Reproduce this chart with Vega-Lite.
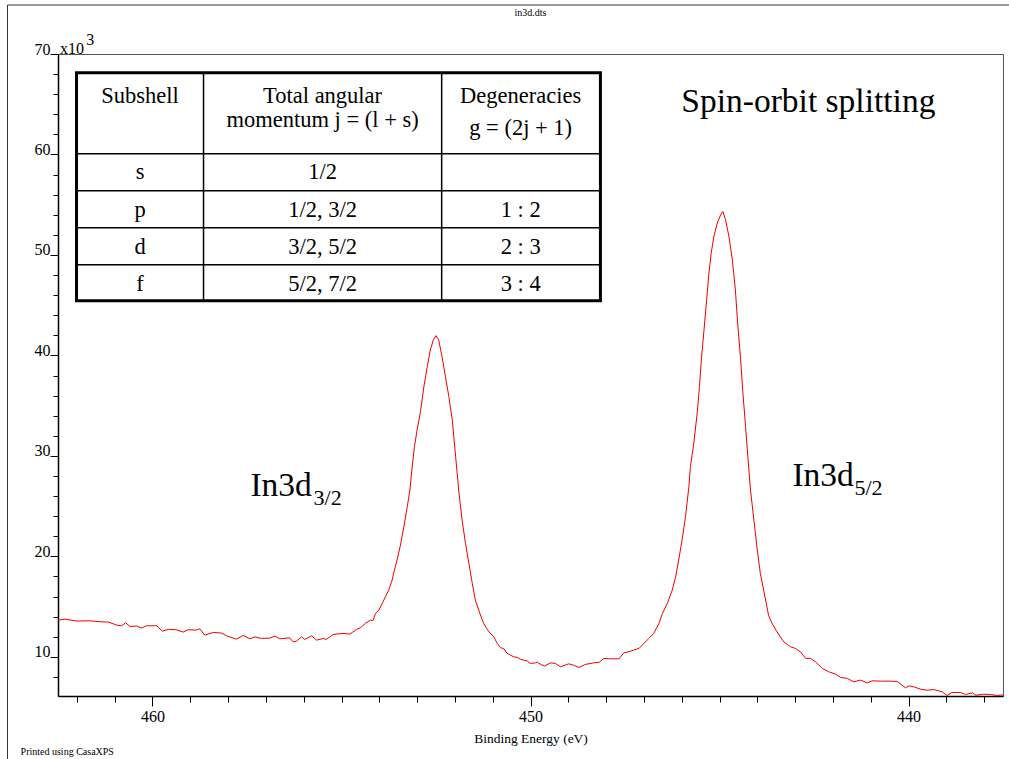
{
  "$schema": "https://vega.github.io/schema/vega-lite/v6.json",
  "width": 945,
  "height": 642,
  "autosize": {"type": "none"},
  "padding": {"left": 58, "top": 54, "right": 6, "bottom": 63},
  "background": "white",
  "config": {
    "view": {"stroke": "#555555", "strokeWidth": 1},
    "font": "Liberation Serif",
    "axis": {"grid": false, "labelFont": "Liberation Serif", "titleFont": "Liberation Serif", "labelColor": "black", "tickColor": "black", "domainColor": "black", "titleColor": "black", "titleFontWeight": "normal"}
  },
  "datasets": {
    "spectrum": [
      {"be": 462.5, "counts": 13650}, {"be": 462.32, "counts": 13750}, {"be": 462.01, "counts": 13560}, {"be": 461.66, "counts": 13590},
      {"be": 461.39, "counts": 13490}, {"be": 461.17, "counts": 13460}, {"be": 460.95, "counts": 13160}, {"be": 460.82, "counts": 13090},
      {"be": 460.71, "counts": 13390}, {"be": 460.6, "counts": 13030}, {"be": 460.42, "counts": 13060}, {"be": 460.29, "counts": 12860},
      {"be": 460.16, "counts": 13090}, {"be": 459.89, "counts": 13090}, {"be": 459.74, "counts": 12560}, {"be": 459.58, "counts": 12730},
      {"be": 459.37, "counts": 12690}, {"be": 459.19, "counts": 12460}, {"be": 459.06, "counts": 12690}, {"be": 458.84, "counts": 12660},
      {"be": 458.75, "counts": 12790}, {"be": 458.62, "counts": 12160}, {"be": 458.39, "counts": 12430}, {"be": 458.17, "counts": 12360},
      {"be": 458.04, "counts": 12090}, {"be": 457.78, "counts": 11760}, {"be": 457.6, "counts": 12130}, {"be": 457.42, "counts": 11790},
      {"be": 457.29, "counts": 11990}, {"be": 457.12, "counts": 11830}, {"be": 456.9, "counts": 11860}, {"be": 456.76, "counts": 12060},
      {"be": 456.63, "counts": 11790}, {"be": 456.37, "counts": 11890}, {"be": 456.28, "counts": 11490}, {"be": 456.19, "counts": 11560},
      {"be": 456.06, "counts": 11990}, {"be": 455.97, "counts": 11730}, {"be": 455.79, "counts": 12090}, {"be": 455.66, "counts": 11660},
      {"be": 455.48, "counts": 11830}, {"be": 455.4, "counts": 11730}, {"be": 455.22, "counts": 12230}, {"be": 454.96, "counts": 12330},
      {"be": 454.78, "counts": 12260}, {"be": 454.6, "counts": 12730}, {"be": 454.5, "counts": 12890}, {"be": 454.37, "counts": 13330},
      {"be": 454.23, "counts": 13660}, {"be": 454.17, "counts": 13590}, {"be": 454.1, "counts": 14320}, {"be": 454.01, "counts": 14650},
      {"be": 453.88, "counts": 15650}, {"be": 453.75, "counts": 16640}, {"be": 453.66, "counts": 17640}, {"be": 453.61, "counts": 18470},
      {"be": 453.53, "counts": 19630}, {"be": 453.44, "counts": 21130}, {"be": 453.35, "counts": 22950}, {"be": 453.26, "counts": 24940},
      {"be": 453.19, "counts": 26600}, {"be": 453.13, "counts": 28920}, {"be": 453.07, "counts": 30920}, {"be": 453.0, "counts": 32580},
      {"be": 452.91, "counts": 34410}, {"be": 452.82, "counts": 36900}, {"be": 452.73, "counts": 38890}, {"be": 452.65, "counts": 40550},
      {"be": 452.57, "counts": 41550}, {"be": 452.5, "counts": 41970}, {"be": 452.43, "counts": 41550}, {"be": 452.34, "counts": 39880},
      {"be": 452.25, "counts": 37890}, {"be": 452.16, "counts": 35900}, {"be": 452.07, "counts": 33580}, {"be": 451.98, "counts": 29920},
      {"be": 451.9, "counts": 26600}, {"be": 451.81, "counts": 23610}, {"be": 451.72, "counts": 21290}, {"be": 451.63, "counts": 19300},
      {"be": 451.54, "counts": 17310}, {"be": 451.46, "counts": 15650}, {"be": 451.34, "counts": 14320}, {"be": 451.24, "counts": 13330},
      {"be": 451.16, "counts": 12830}, {"be": 451.1, "counts": 12490}, {"be": 450.97, "counts": 11990}, {"be": 450.88, "counts": 11330},
      {"be": 450.79, "counts": 10900}, {"be": 450.71, "counts": 10830}, {"be": 450.62, "counts": 10340}, {"be": 450.53, "counts": 10170},
      {"be": 450.44, "counts": 9990}, {"be": 450.35, "counts": 9940}, {"be": 450.26, "counts": 9740}, {"be": 450.18, "counts": 9670},
      {"be": 450.09, "counts": 9600}, {"be": 450.0, "counts": 9340}, {"be": 449.87, "counts": 9400}, {"be": 449.82, "counts": 9470},
      {"be": 449.74, "counts": 9270}, {"be": 449.63, "counts": 9070}, {"be": 449.47, "counts": 9400}, {"be": 449.34, "counts": 9340},
      {"be": 449.21, "counts": 9000}, {"be": 448.99, "counts": 9300}, {"be": 448.86, "counts": 9170}, {"be": 448.72, "counts": 8940},
      {"be": 448.55, "counts": 9240}, {"be": 448.33, "counts": 9400}, {"be": 448.19, "counts": 9440}, {"be": 448.06, "counts": 9840},
      {"be": 447.88, "counts": 9800}, {"be": 447.66, "counts": 9800}, {"be": 447.53, "counts": 10400}, {"be": 447.4, "counts": 10500},
      {"be": 447.27, "counts": 10670}, {"be": 447.13, "counts": 10840}, {"be": 447.0, "counts": 11330}, {"be": 446.87, "counts": 11830},
      {"be": 446.74, "counts": 12330}, {"be": 446.6, "counts": 13330}, {"be": 446.51, "counts": 14320}, {"be": 446.38, "counts": 15320},
      {"be": 446.25, "counts": 16640}, {"be": 446.16, "counts": 17970}, {"be": 446.08, "counts": 19630}, {"be": 445.99, "counts": 21620},
      {"be": 445.9, "counts": 23940}, {"be": 445.81, "counts": 26930}, {"be": 445.77, "counts": 28920}, {"be": 445.68, "counts": 31250},
      {"be": 445.59, "counts": 34240}, {"be": 445.53, "counts": 36900}, {"be": 445.48, "counts": 39550}, {"be": 445.41, "counts": 42540},
      {"be": 445.34, "counts": 45530}, {"be": 445.28, "counts": 48180}, {"be": 445.22, "counts": 50170}, {"be": 445.15, "counts": 51830},
      {"be": 445.06, "counts": 53160}, {"be": 444.97, "counts": 53990}, {"be": 444.91, "counts": 54320}, {"be": 444.84, "counts": 53490},
      {"be": 444.75, "counts": 51830}, {"be": 444.66, "counts": 49510}, {"be": 444.58, "counts": 46520}, {"be": 444.52, "counts": 43200},
      {"be": 444.44, "counts": 39550}, {"be": 444.38, "counts": 36230}, {"be": 444.31, "counts": 32910}, {"be": 444.25, "counts": 29920},
      {"be": 444.18, "counts": 26600}, {"be": 444.09, "counts": 23610}, {"be": 444.0, "counts": 20630}, {"be": 443.92, "counts": 18300},
      {"be": 443.78, "counts": 15650}, {"be": 443.7, "counts": 14100}, {"be": 443.61, "counts": 13330}, {"be": 443.48, "counts": 12490},
      {"be": 443.3, "counts": 11490}, {"be": 443.12, "counts": 11000}, {"be": 442.99, "counts": 10830}, {"be": 442.86, "counts": 10500},
      {"be": 442.72, "counts": 9840}, {"be": 442.59, "counts": 9840}, {"be": 442.46, "counts": 9500}, {"be": 442.28, "counts": 8840},
      {"be": 442.11, "counts": 8510}, {"be": 441.93, "counts": 8280}, {"be": 441.8, "counts": 7950}, {"be": 441.62, "counts": 7850},
      {"be": 441.45, "counts": 7510}, {"be": 441.27, "counts": 7680}, {"be": 441.09, "counts": 7410}, {"be": 440.96, "counts": 7610},
      {"be": 440.74, "counts": 7580}, {"be": 440.48, "counts": 7580}, {"be": 440.3, "counts": 7550}, {"be": 440.17, "counts": 7180},
      {"be": 440.08, "counts": 6910}, {"be": 439.99, "counts": 7110}, {"be": 439.86, "counts": 7010}, {"be": 439.68, "counts": 6780},
      {"be": 439.51, "counts": 6680}, {"be": 439.33, "counts": 6740}, {"be": 439.11, "counts": 6510}, {"be": 438.98, "counts": 6150},
      {"be": 438.85, "counts": 6450}, {"be": 438.62, "counts": 6450}, {"be": 438.49, "counts": 6250}, {"be": 438.31, "counts": 6410},
      {"be": 438.22, "counts": 6180}, {"be": 438.01, "counts": 6280}, {"be": 437.83, "counts": 6250}, {"be": 437.65, "counts": 6150},
      {"be": 437.5, "counts": 6210}
    ],
    "tableLines": [
      {"x": 462.01, "x2": 448.15, "y": 60069, "y2": 60069},
      {"x": 462.01, "x2": 448.15, "y": 56384, "y2": 56384},
      {"x": 462.01, "x2": 448.15, "y": 52699, "y2": 52699},
      {"x": 462.01, "x2": 448.15, "y": 49013, "y2": 49013},
      {"x": 458.65, "x2": 458.65, "y": 68137, "y2": 45428},
      {"x": 452.35, "x2": 452.35, "y": 68137, "y2": 45428}
    ],
    "tableBox": [
      {"x": 462.01, "x2": 448.15, "y": 68137, "y2": 45428}
    ],
    "tableText": [
      {"label": "Subshell", "x": 460.33, "y": 65820},
      {"label": "Total angular", "x": 455.5, "y": 65820},
      {"label": "momentum j = (l + s)", "x": 455.5, "y": 63431},
      {"label": "Degeneracies", "x": 450.26, "y": 65820},
      {"label": "g = (2j + 1)", "x": 450.26, "y": 62635},
      {"label": "s", "x": 460.33, "y": 58255},
      {"label": "1/2", "x": 455.5, "y": 58255},
      {"label": "p", "x": 460.33, "y": 54473},
      {"label": "1/2, 3/2", "x": 455.5, "y": 54473},
      {"label": "1 : 2", "x": 450.26, "y": 54473},
      {"label": "d", "x": 460.33, "y": 50791},
      {"label": "3/2, 5/2", "x": 455.5, "y": 50791},
      {"label": "2 : 3", "x": 450.26, "y": 50791},
      {"label": "f", "x": 460.33, "y": 47108},
      {"label": "5/2, 7/2", "x": 455.5, "y": 47108},
      {"label": "3 : 4", "x": 450.26, "y": 47108}
    ],
    "bigText": [
      {"label": "Spin-orbit splitting", "x": 446.01, "y": 64227},
      {"label": "In3d", "x": 457.41, "y": 26006},
      {"label": "In3d", "x": 443.07, "y": 27003}
    ],
    "subText": [
      {"label": "3/2", "x": 455.74, "y": 25112},
      {"label": "5/2", "x": 441.43, "y": 26107}
    ],
    "fileName": [
      {"label": "in3d.dts", "x": 450.0, "y": 74081}
    ],
    "printNote": [
      {"label": "Printed using CasaXPS", "x": 463.49, "y": 528}
    ],
    "exponent": [
      {"label": "x10", "x": 462.45, "y": 70000}
    ],
    "exponentPower": [
      {"label": "3", "x": 461.75, "y": 70896}
    ],
    "frame": [
      {"x": 463.836, "x2": 463.836, "y": 74877, "y2": -170},
      {"x": 463.836, "x2": 437.33, "y": 74877, "y2": 74877}
    ]
  },
  "resolve": {"axis": {"x": "independent", "y": "independent"}},
  "layer": [
    {
      "data": {"name": "spectrum"},
      "mark": {"type": "line", "color": "#ee0000", "strokeWidth": 1, "clip": true},
      "encoding": {
        "x": {"field": "be", "type": "quantitative", "scale": {"domain": [437.5, 462.5], "reverse": true, "nice": false, "zero": false},
          "axis": {"orient": "bottom", "values": [440, 450, 460], "tickSize": 10, "labelFontSize": 16, "labelPadding": 2, "domainWidth": 1.5, "title": "Binding Energy (eV)", "titleFontSize": 13.5, "titlePadding": 7, "labelFlush": false, "labelOverlap": false}},
        "y": {"field": "counts", "type": "quantitative", "scale": {"domain": [6100, 70000], "nice": false, "zero": false},
          "axis": {"orient": "left", "values": [10000, 20000, 30000, 40000, 50000, 60000, 70000], "tickSize": 8, "labelExpr": "datum.value / 1000", "labelBaseline": "alphabetic", "labelPadding": 0, "labelFontSize": 16, "domainWidth": 1.5, "title": null, "labelFlush": false, "labelOverlap": false}}
      }
    },
    {
      "data": {"name": "tableLines"},
      "mark": {"type": "rule", "color": "black", "strokeWidth": 1.5},
      "encoding": {
        "x": {"field": "x", "type": "quantitative", "scale": {"domain": [437.5, 462.5], "reverse": true, "nice": false, "zero": false},
          "axis": {"orient": "bottom", "values": [438, 439, 441, 442, 443, 444, 445, 446, 447, 448, 449, 451, 452, 453, 454, 455, 456, 457, 458, 459, 461, 462], "tickSize": 6, "labels": false, "domain": false, "title": null}},
        "x2": {"field": "x2"},
        "y": {"field": "y", "type": "quantitative", "scale": {"domain": [6100, 70000], "nice": false, "zero": false},
          "axis": {"orient": "left", "values": [8000, 12000, 14000, 16000, 18000, 22000, 24000, 26000, 28000, 32000, 34000, 36000, 38000, 42000, 44000, 46000, 48000, 52000, 54000, 56000, 58000, 62000, 64000, 66000, 68000], "tickSize": 5, "labels": false, "domain": false, "title": null}},
        "y2": {"field": "y2"}
      }
    },
    {
      "data": {"name": "tableBox"},
      "mark": {"type": "rect", "fill": null, "fillOpacity": 0, "stroke": "black", "strokeWidth": 3},
      "encoding": {
        "x": {"field": "x", "type": "quantitative", "axis": null, "scale": {"domain": [437.5, 462.5], "reverse": true, "nice": false, "zero": false}},
        "x2": {"field": "x2"},
        "y": {"field": "y", "type": "quantitative", "axis": null, "scale": {"domain": [6100, 70000], "nice": false, "zero": false}},
        "y2": {"field": "y2"}
      }
    },
    {
      "data": {"name": "tableText"},
      "mark": {"type": "text", "font": "Liberation Serif", "fontSize": 22.5, "align": "center", "baseline": "middle", "color": "black"},
      "encoding": {
        "x": {"field": "x", "type": "quantitative", "axis": null, "scale": {"domain": [437.5, 462.5], "reverse": true, "nice": false, "zero": false}},
        "y": {"field": "y", "type": "quantitative", "axis": null, "scale": {"domain": [6100, 70000], "nice": false, "zero": false}},
        "text": {"field": "label"}
      }
    },
    {
      "data": {"name": "bigText"},
      "mark": {"type": "text", "font": "Liberation Serif", "fontSize": 33.5, "align": "left", "baseline": "alphabetic", "color": "black"},
      "encoding": {
        "x": {"field": "x", "type": "quantitative", "axis": null, "scale": {"domain": [437.5, 462.5], "reverse": true, "nice": false, "zero": false}},
        "y": {"field": "y", "type": "quantitative", "axis": null, "scale": {"domain": [6100, 70000], "nice": false, "zero": false}},
        "text": {"field": "label"}
      }
    },
    {
      "data": {"name": "subText"},
      "mark": {"type": "text", "font": "Liberation Serif", "fontSize": 22, "align": "left", "baseline": "alphabetic", "color": "black"},
      "encoding": {
        "x": {"field": "x", "type": "quantitative", "axis": null, "scale": {"domain": [437.5, 462.5], "reverse": true, "nice": false, "zero": false}},
        "y": {"field": "y", "type": "quantitative", "axis": null, "scale": {"domain": [6100, 70000], "nice": false, "zero": false}},
        "text": {"field": "label"}
      }
    },
    {
      "data": {"name": "fileName"},
      "mark": {"type": "text", "font": "Liberation Serif", "fontSize": 10, "align": "center", "baseline": "middle", "color": "black"},
      "encoding": {
        "x": {"field": "x", "type": "quantitative", "axis": null, "scale": {"domain": [437.5, 462.5], "reverse": true, "nice": false, "zero": false}},
        "y": {"field": "y", "type": "quantitative", "axis": null, "scale": {"domain": [6100, 70000], "nice": false, "zero": false}},
        "text": {"field": "label"}
      }
    },
    {
      "data": {"name": "printNote"},
      "mark": {"type": "text", "font": "Liberation Serif", "fontSize": 10, "align": "left", "baseline": "middle", "color": "black"},
      "encoding": {
        "x": {"field": "x", "type": "quantitative", "axis": null, "scale": {"domain": [437.5, 462.5], "reverse": true, "nice": false, "zero": false}},
        "y": {"field": "y", "type": "quantitative", "axis": null, "scale": {"domain": [6100, 70000], "nice": false, "zero": false}},
        "text": {"field": "label"}
      }
    },
    {
      "data": {"name": "exponent"},
      "mark": {"type": "text", "font": "Liberation Serif", "fontSize": 16, "align": "left", "baseline": "alphabetic", "color": "black"},
      "encoding": {
        "x": {"field": "x", "type": "quantitative", "axis": null, "scale": {"domain": [437.5, 462.5], "reverse": true, "nice": false, "zero": false}},
        "y": {"field": "y", "type": "quantitative", "axis": null, "scale": {"domain": [6100, 70000], "nice": false, "zero": false}},
        "text": {"field": "label"}
      }
    },
    {
      "data": {"name": "exponentPower"},
      "mark": {"type": "text", "font": "Liberation Serif", "fontSize": 16, "align": "left", "baseline": "alphabetic", "color": "black"},
      "encoding": {
        "x": {"field": "x", "type": "quantitative", "axis": null, "scale": {"domain": [437.5, 462.5], "reverse": true, "nice": false, "zero": false}},
        "y": {"field": "y", "type": "quantitative", "axis": null, "scale": {"domain": [6100, 70000], "nice": false, "zero": false}},
        "text": {"field": "label"}
      }
    },
    {
      "data": {"name": "frame"},
      "mark": {"type": "rule", "color": "#333333", "strokeWidth": 1},
      "encoding": {
        "x": {"field": "x", "type": "quantitative", "axis": null, "scale": {"domain": [437.5, 462.5], "reverse": true, "nice": false, "zero": false}},
        "x2": {"field": "x2"},
        "y": {"field": "y", "type": "quantitative", "axis": null, "scale": {"domain": [6100, 70000], "nice": false, "zero": false}},
        "y2": {"field": "y2"}
      }
    }
  ]
}
